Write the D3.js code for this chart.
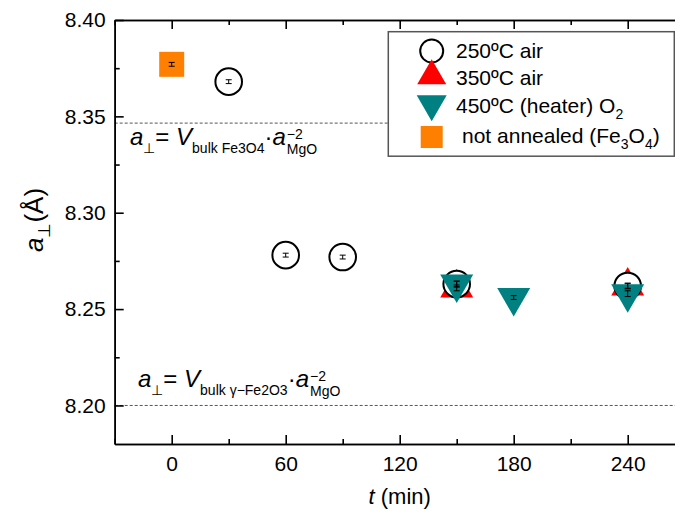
<!DOCTYPE html>
<html>
<head>
<meta charset="utf-8">
<script src="https://cdn.jsdelivr.net/npm/d3@7"></script>
<style>
  body { margin: 0; background: #fff; }
  svg { display: block; font-family: Arial, "Liberation Sans", sans-serif; }
</style>
</head>
<body>
<div id="chart"></div>
<script>
// ---- データ ----
const timeAir250 = [30, 60, 90, 150, 240];          // 250ºC air (min)
const aAir250 = [8.368, 8.278, 8.277, 8.263, 8.262];
const errAir250 = [0.001, 0.001, 0.001, 0.0015, 0.0012];

const timeAir350 = [150, 240];                       // 350ºC air
const aAir350 = [8.261, 8.262];
const errAir350 = [0.0015, 0.0015];

const timeO2450 = [150, 180, 240];                   // 450ºC (heater) O2
const aO2450 = [8.263, 8.256, 8.258];
const errO2450 = [0.0015, 0.001, 0.0015];

const timeNotAnnealed = [0];                         // not annealed (Fe3O4)
const aNotAnnealed = [8.377];
const errNotAnnealed = [0.001];

const refValues = [8.3465, 8.20];                    // 破線（バルク値）

const xMajorTicks = [0, 60, 120, 180, 240];
const xMinorTicks = [-30, 30, 90, 150, 210, 270];
const yMajorTicks = [8.20, 8.25, 8.30, 8.35, 8.40];
const yMinorTicks = [8.225, 8.275, 8.325, 8.375];

// ---- 描画設定 ----
const width = 675, height = 514;
const plotLeft = 114.7, plotRight = 684.7, plotTop = 20, plotBottom = 444;

const svg = d3.select("#chart").append("svg")
  .attr("width", width).attr("height", height);

const x = d3.scaleLinear().domain([-30, 270]).range([plotLeft, plotRight]);
const y = d3.scaleLinear().domain([8.18, 8.40]).range([plotBottom, plotTop]);

const tickFont = 21;

// 破線
svg.append("g")
  .selectAll("line")
  .data(refValues)
  .join("line")
    .attr("x1", plotLeft).attr("x2", plotRight)
    .attr("y1", d => y(d)).attr("y2", d => y(d))
    .attr("stroke", "#555")
    .attr("stroke-width", 1)
    .attr("stroke-dasharray", "3,2");

// 軸
function styleAxis(g, labels) {
  g.select(".domain").attr("stroke", "#000").attr("stroke-width", 1.6);
  g.selectAll(".tick line").attr("stroke", "#000").attr("stroke-width", 1.6);
  g.selectAll(".tick text")
    .attr("font-size", tickFont)
    .attr("font-family", "Arial, 'Liberation Sans', sans-serif")
    .attr("fill", "#000")
    .attr("display", labels ? null : "none");
}

svg.append("g").attr("transform", `translate(0,${plotBottom})`)
  .call(d3.axisBottom(x).tickValues(xMinorTicks).tickSize(-5).tickSizeOuter(0).tickFormat(""))
  .call(g => styleAxis(g, false));
svg.append("g").attr("transform", `translate(0,${plotBottom})`)
  .call(d3.axisBottom(x).tickValues(xMajorTicks).tickSize(-9).tickSizeOuter(0).tickPadding(12).tickFormat(d3.format("d")))
  .call(g => styleAxis(g, true));
svg.append("g").attr("transform", `translate(0,${plotTop})`)
  .call(d3.axisTop(x).tickValues(xMinorTicks).tickSize(-5).tickSizeOuter(0).tickFormat(""))
  .call(g => styleAxis(g, false));
svg.append("g").attr("transform", `translate(0,${plotTop})`)
  .call(d3.axisTop(x).tickValues(xMajorTicks).tickSize(-9).tickSizeOuter(0).tickFormat(""))
  .call(g => styleAxis(g, false));

svg.append("g").attr("transform", `translate(${plotLeft},0)`)
  .call(d3.axisLeft(y).tickValues(yMinorTicks).tickSize(-5).tickSizeOuter(0).tickFormat(""))
  .call(g => styleAxis(g, false));
svg.append("g").attr("transform", `translate(${plotLeft},0)`)
  .call(d3.axisLeft(y).tickValues(yMajorTicks).tickSize(-9).tickSizeOuter(0).tickPadding(9).tickFormat(d3.format(".2f")))
  .call(g => styleAxis(g, true));
svg.append("g").attr("transform", `translate(${plotRight},0)`)
  .call(d3.axisRight(y).tickValues(yMinorTicks).tickSize(-5).tickSizeOuter(0).tickFormat(""))
  .call(g => styleAxis(g, false));
svg.append("g").attr("transform", `translate(${plotRight},0)`)
  .call(d3.axisRight(y).tickValues(yMajorTicks).tickSize(-9).tickSizeOuter(0).tickFormat(""))
  .call(g => styleAxis(g, false));

// 軸タイトル
const xTitle = svg.append("text")
  .attr("x", (plotLeft + plotRight) / 2).attr("y", 504)
  .attr("text-anchor", "middle")
  .attr("font-size", 22);
xTitle.append("tspan").attr("font-style", "italic").text("t");
xTitle.append("tspan").text(" (min)");

const yTitle = svg.append("text")
  .attr("transform", "translate(43,220) rotate(-90)")
  .attr("text-anchor", "middle")
  .attr("font-size", 26);
yTitle.append("tspan").attr("font-style", "italic").text("a");
yTitle.append("tspan").attr("font-size", 17).attr("dy", 7).text("⊥");
yTitle.append("tspan").attr("dy", -7).text("(Å)");

// 式のラベル
function formula(x0, y0, subText) {
  const t = svg.append("text").attr("x", x0).attr("y", y0).attr("font-size", 24);
  t.append("tspan").attr("font-style", "italic").text("a");
  t.append("tspan").attr("font-size", 14).attr("dy", 8).text("⊥");
  t.append("tspan").attr("dy", -8).text("= ");
  t.append("tspan").attr("font-style", "italic").text("V");
  t.append("tspan").attr("font-size", 14).attr("dy", 8).text(subText);
  t.append("tspan").attr("dy", -8).text("·");
  t.append("tspan").attr("font-style", "italic").text("a");
  const xEnd = x0 + t.node().getComputedTextLength() + 1;
  t.append("tspan").attr("x", xEnd).attr("y", y0 - 6).attr("font-size", 14).text("−2");
  t.append("tspan").attr("x", xEnd).attr("y", y0 + 9).attr("font-size", 14).text("MgO");
}
formula(130, 145, "bulk Fe3O4");
formula(138, 387, "bulk γ−Fe2O3");

// ---- シンボル ----
const circleSym = d3.symbol().type(d3.symbolCircle).size(Math.PI * 13.3 * 13.3);
const triSize = w => Math.sqrt(3) * w * w / 4;
const triUp = d3.symbol().type(d3.symbolTriangle).size(triSize(33));
const squareSym = d3.symbol().type(d3.symbolSquare).size(25 * 25);

const orange = "#ff8000", red = "#ff0000", teal = "#008080";

function points(times, values) {
  return times.map((t, i) => ({ t: t, v: values[i] }));
}

// 350ºC air
svg.append("g").selectAll("path")
  .data(points(timeAir350, aAir350))
  .join("path")
    .attr("d", triUp)
    .attr("fill", red)
    .attr("transform", d => `translate(${x(d.t)},${y(d.v)})`);

// not annealed
svg.append("g").selectAll("path")
  .data(points(timeNotAnnealed, aNotAnnealed))
  .join("path")
    .attr("d", squareSym)
    .attr("fill", orange)
    .attr("transform", d => `translate(${x(d.t)},${y(d.v)})`);

// 250ºC air
svg.append("g").selectAll("path")
  .data(points(timeAir250, aAir250))
  .join("path")
    .attr("d", circleSym)
    .attr("fill", "#fff")
    .attr("stroke", "#000")
    .attr("stroke-width", 2)
    .attr("transform", d => `translate(${x(d.t)},${y(d.v)})`);

// 450ºC O2（下向き三角）
svg.append("g").selectAll("path")
  .data(points(timeO2450, aO2450))
  .join("path")
    .attr("d", triUp)
    .attr("fill", teal)
    .attr("transform", d => `translate(${x(d.t)},${y(d.v)}) rotate(180)`);

// エラーバー
const errData = [
  [timeNotAnnealed, aNotAnnealed, errNotAnnealed],
  [timeAir250, aAir250, errAir250],
  [timeAir350, aAir350, errAir350],
  [timeO2450, aO2450, errO2450]
].flatMap(([ts, vs, es]) => ts.map((t, i) => ({ t: t, v: vs[i], e: es[i] })));

const eb = svg.append("g").attr("stroke", "#000").attr("stroke-width", 1)
  .selectAll("g").data(errData).join("g");
eb.append("line")
  .attr("x1", d => x(d.t)).attr("x2", d => x(d.t))
  .attr("y1", d => y(d.v - d.e)).attr("y2", d => y(d.v + d.e));
eb.append("line")
  .attr("x1", d => x(d.t) - 3).attr("x2", d => x(d.t) + 3)
  .attr("y1", d => y(d.v - d.e)).attr("y2", d => y(d.v - d.e));
eb.append("line")
  .attr("x1", d => x(d.t) - 3).attr("x2", d => x(d.t) + 3)
  .attr("y1", d => y(d.v + d.e)).attr("y2", d => y(d.v + d.e));

// ---- 凡例 ----
const legend = svg.append("g");
legend.append("rect")
  .attr("x", 388.3).attr("y", 31.7)
  .attr("width", 286).attr("height", 124.5)
  .attr("fill", "#fff")
  .attr("stroke", "#555")
  .attr("stroke-width", 1.5);

const legendItems = [
  { sym: d3.symbol().type(d3.symbolCircle).size(Math.PI * 11.5 * 11.5), fill: "#fff", stroke: "#000", rot: 0, cy: 51 },
  { sym: d3.symbol().type(d3.symbolTriangle).size(triSize(29)), fill: red, stroke: "none", rot: 0, cy: 76 },
  { sym: d3.symbol().type(d3.symbolTriangle).size(triSize(30)), fill: teal, stroke: "none", rot: 180, cy: 104 },
  { sym: d3.symbol().type(d3.symbolSquare).size(22 * 22), fill: orange, stroke: "none", rot: 0, cy: 137 }
];
legend.selectAll("path")
  .data(legendItems)
  .join("path")
    .attr("d", d => d.sym())
    .attr("fill", d => d.fill)
    .attr("stroke", d => d.stroke)
    .attr("stroke-width", 2)
    .attr("transform", d => `translate(431.7,${d.cy}) rotate(${d.rot})`);

const legendFont = 21;
legend.append("text").attr("x", 456).attr("y", 58).attr("font-size", legendFont).text("250ºC air");
legend.append("text").attr("x", 456).attr("y", 85).attr("font-size", legendFont).text("350ºC air");
const lt3 = legend.append("text").attr("x", 456).attr("y", 113).attr("font-size", legendFont);
lt3.append("tspan").text("450ºC (heater) O");
lt3.append("tspan").attr("font-size", 14).attr("dy", 6).text("2");
const lt4 = legend.append("text").attr("x", 462).attr("y", 143).attr("font-size", legendFont);
lt4.append("tspan").text("not annealed (Fe");
lt4.append("tspan").attr("font-size", 14).attr("dy", 6).text("3");
lt4.append("tspan").attr("dy", -6).text("O");
lt4.append("tspan").attr("font-size", 14).attr("dy", 6).text("4");
lt4.append("tspan").attr("dy", -6).text(")");
</script>
</body>
</html>
